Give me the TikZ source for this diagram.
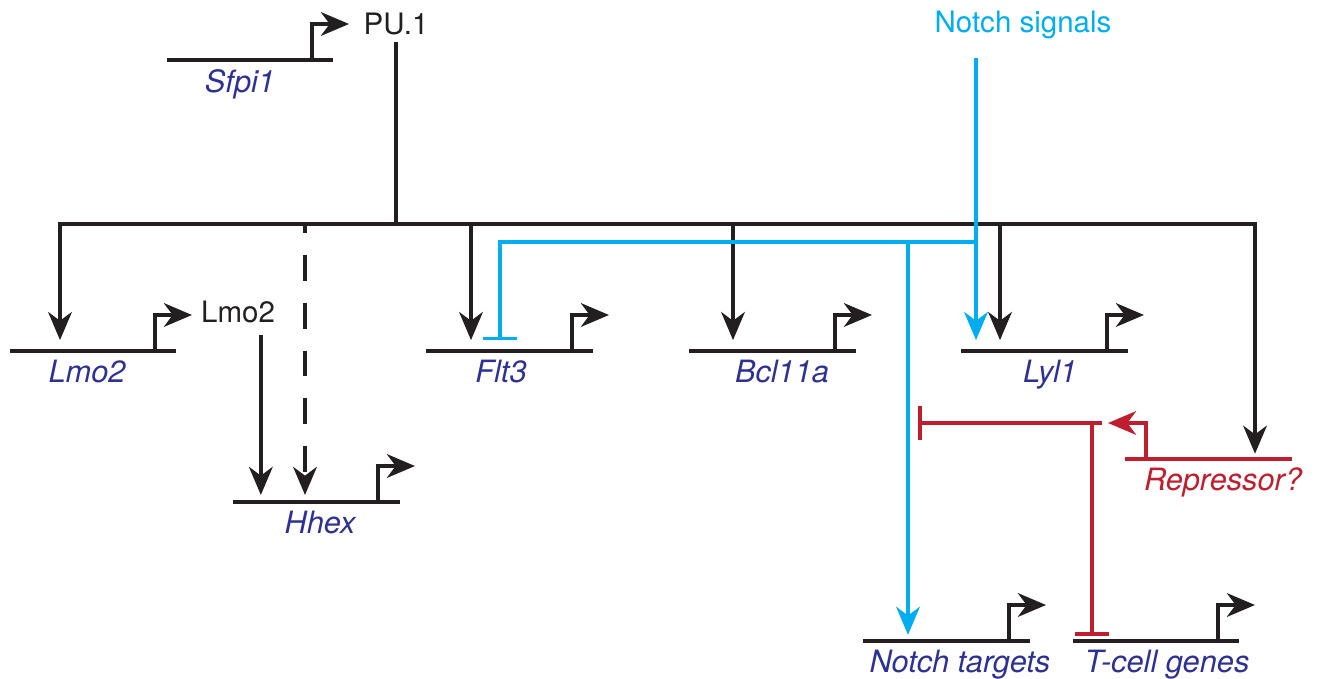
\documentclass[tikz,border=0pt]{standalone}
\usepackage{fontspec}
\setmainfont{TeX Gyre Heros}
\usepackage{tikz}
\usetikzlibrary{arrows.meta}
\definecolor{genblue}{HTML}{2E3192}
\definecolor{notchcyan}{HTML}{00AEEF}
\definecolor{repred}{HTML}{BE1E2D}
\definecolor{inkblack}{HTML}{231F20}

\begin{document}
\begin{tikzpicture}[
  x=0.02cm, y=-0.02cm,
  font=\fontsize{16.8}{20}\selectfont,
  >={Stealth[length=16pt, width=13.5pt, inset=5pt]},
  wire/.style={line width=2pt, draw=inkblack},
  nwire/.style={line width=2pt, draw=notchcyan},
  rwire/.style={line width=2pt, draw=repred},
  prom/.style={wire, ->},
  block/.style={-{Bar[width=19pt]}},
  glabel/.style={anchor=base, font=\fontsize{17.5}{20}\selectfont\itshape, text=genblue},
  prot/.style={anchor=base, text=inkblack},
]
  \useasboundingbox (0,0) rectangle (1321,679);

  % Genes
  \coordinate (sfpi1) at (167,60);
  \coordinate (lmo2) at (10,351);
  \coordinate (hhex) at (233,502);
  \coordinate (flt3) at (426,351);
  \coordinate (bcl11a) at (689,351);
  \coordinate (lyl1) at (961,351);
  \coordinate (ntarg) at (863,641);
  \coordinate (tcell) at (1073,641);
  \coordinate (repr) at (1292,459);

  \draw[wire] (sfpi1) -- +(166,0);
  \draw[prom] (sfpi1) ++(145,0) |- +(37,-36);
  \draw[wire] (lmo2) -- +(166,0);
  \draw[prom] (lmo2) ++(145,0) |- +(37,-36);
  \draw[wire] (hhex) -- +(167,0);
  \draw[prom] (hhex) ++(145,0) |- +(37,-36);
  \draw[wire] (flt3) -- +(167,0);
  \draw[prom] (flt3) ++(146,0) |- +(37,-36);
  \draw[wire] (bcl11a) -- +(167,0);
  \draw[prom] (bcl11a) ++(146,0) |- +(37,-36);
  \draw[wire] (lyl1) -- +(167,0);
  \draw[prom] (lyl1) ++(146,0) |- +(37,-36);
  \draw[wire] (ntarg) -- +(167,0);
  \draw[prom] (ntarg) ++(146,0) |- +(37,-36);
  \draw[wire] (tcell) -- +(166,0);
  \draw[prom] (tcell) ++(145,0) |- +(37,-36);
  \draw[rwire] (repr) -- +(-167,0);
  \draw[rwire, ->] (repr) ++(-146,0) |- +(-38,-36);

  \node[glabel] (sfpi1-l) at (240,92) {Sfpi1};
  \node[glabel] (lmo2-l) at (87,382) {Lmo2};
  \node[glabel] (hhex-l) at (320,533) {Hhex};
  \node[glabel] (flt3-l) at (501,382) {Flt3};
  \node[glabel] (bcl11a-l) at (782,382) {Bcl11a};
  \node[glabel] (lyl1-l) at (1050,382) {Lyl1};
  \node[glabel] (ntarg-l) at (960,672) {Notch targets};
  \node[glabel] (tcell-l) at (1167,672) {T-cell genes};
  \node[glabel, text=repred] (repr-l) at (1223,490) {Repressor?};

  % Proteins
  \node[prot] (pu1) at (396,35) {PU.1};
  \node[prot] (lmo2p) at (238,322) {Lmo2};
  \node[prot, text=notchcyan] (notch) at (1023,33) {Notch signals};

  % PU.1 targets
  \coordinate (bLmo2) at (60,224);
  \coordinate (bHhex) at (305,224);
  \coordinate (bFlt3) at (471,224);
  \coordinate (bBcl) at (733,224);
  \coordinate (bLyl) at (1000,224);
  \coordinate (bRep) at (1255,224);

  \draw[wire] (pu1.south) -- (pu1.south |- bLmo2);
  \draw[wire, <->, shorten <=6.2pt, shorten >=3pt] (bLmo2 |- lmo2) -- (bLmo2) -- (bRep) -- (bRep |- repr);
  \draw[wire, ->, shorten >=6.2pt] (bFlt3) -- (bFlt3 |- flt3);
  \draw[wire, ->, shorten >=6.2pt] (bBcl) -- (bBcl |- bcl11a);
  \draw[wire, ->, shorten >=6.2pt] (bLyl) -- (bLyl |- lyl1);
  \draw[wire, ->, dash pattern=on 14.7pt off 12.5pt, dash phase=9.6pt, shorten >=4pt] (bHhex) -- (bHhex |- hhex);
  \draw[wire, ->, shorten <=3.5pt, shorten >=4pt] ([xshift=13pt]lmo2p.south) -- ([xshift=13pt]lmo2p.south |- hhex);

  % Notch
  \coordinate (nJ) at (976,242);
  \coordinate (nF) at (500,242);
  \coordinate (nT) at (908,242);
  \draw[nwire, block, shorten >=6.2pt] (nJ) -- (nF) -- (nF |- flt3);
  \draw[nwire, ->, shorten >=3.5pt] (nT) -- (nT |- ntarg);
  \draw[nwire, ->, shorten <=6.8pt, shorten >=6.2pt] (notch.south -| nJ) -- (nJ |- lyl1);

  % Repressor
  \coordinate (rR) at (1102,423);
  \coordinate (rJ) at (1092,423);
  \draw[rwire, block, shorten >=5.7pt] (rR) -- (rR -| nT);
  \draw[rwire, block, shorten >=3pt] (rJ) -- (rJ |- tcell);
\end{tikzpicture}
\end{document}
